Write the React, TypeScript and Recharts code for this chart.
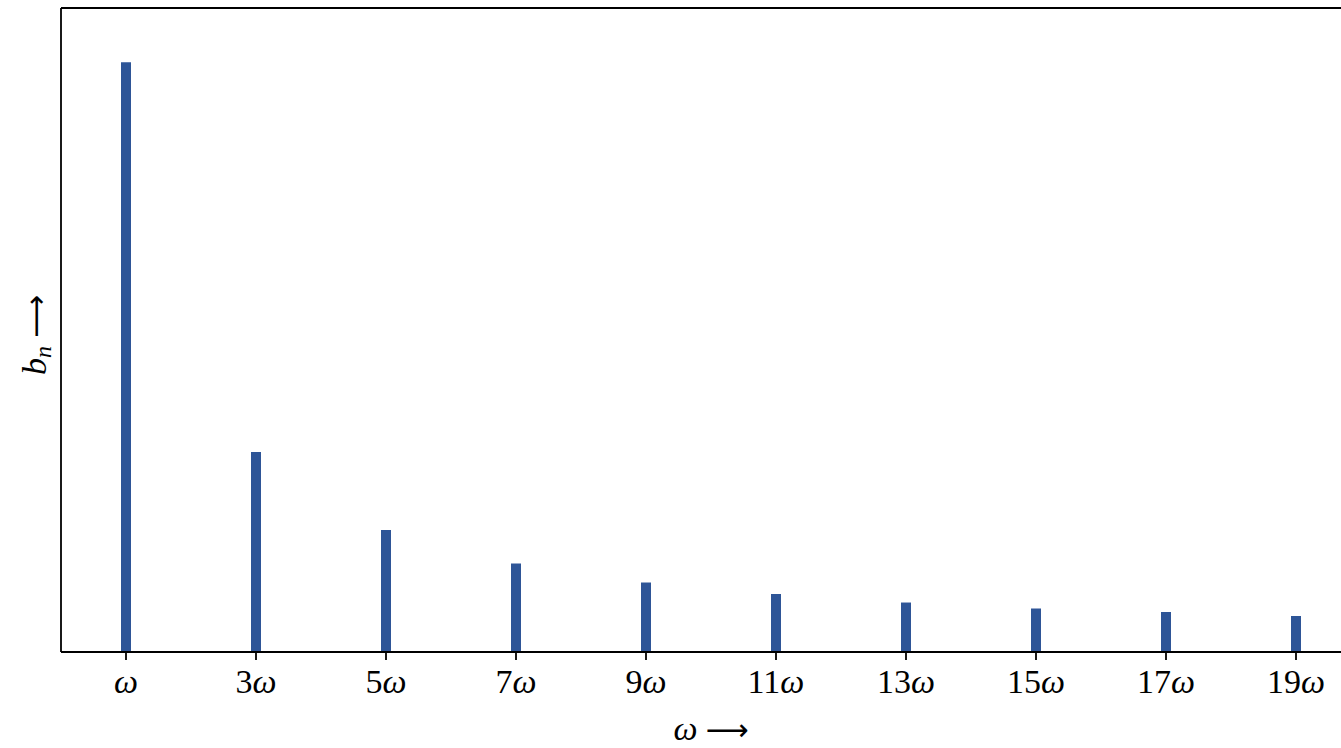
import React from "react";
import { BarChart, Bar, XAxis, YAxis, ReferenceLine } from "recharts";

const harmonics = [1, 3, 5, 7, 9, 11, 13, 15, 17, 19];
const tickPrefixes = ["", "3", "5", "7", "9", "11", "13", "15", "17", "19"];
const coefficients = [1.273, 0.4316, 0.2633, 0.191, 0.15, 0.1252, 0.1068, 0.0939, 0.0863, 0.0777];
const yMax = 1.39;

const data = harmonics.map((n, i) => ({ n: String(n), prefix: tickPrefixes[i], b: coefficients[i] }));

const FONT = "'Liberation Serif', 'DejaVu Serif', serif";
const ARROW_FONT = "'DejaVu Sans', sans-serif";
const BAR_COLOR = "#2E5597";

const Tick = (props: any) => {
  const { x, y, index } = props;
  const prefix = tickPrefixes[index] ?? "";
  return (
    <text x={x} y={y + 31} textAnchor="middle" fontFamily={FONT} fontSize={34} fill="#000">
      {prefix}
      <tspan fontStyle="italic">ω</tspan>
    </text>
  );
};

export default function App() {
  return (
    <div style={{ position: "fixed", left: 0, top: 0, width: 1341, height: 748, overflow: "hidden", background: "#fff" }}>
      <BarChart
        width={1400}
        height={748}
        data={data}
        margin={{ top: 8, right: 39, bottom: 0, left: 0 }}
        barSize={10}
      >
        <XAxis
          dataKey="n"
          height={96}
          interval={0}
          tick={<Tick />}
          tickSize={8}
          tickLine={{ stroke: "#000", strokeWidth: 1.8 }}
          axisLine={{ stroke: "#000", strokeWidth: 1.8 }}
          label={{
            content: (p: any) => {
              const vb = p.viewBox || { x: 61, width: 1300, y: 652 };
              return (
                <text x={vb.x + vb.width / 2} y={740} textAnchor="middle" fontFamily={FONT} fontSize={34} fill="#000">
                  <tspan fontStyle="italic">ω</tspan>
                  <tspan fontFamily={ARROW_FONT} fontSize={30} dx={8}>⟶</tspan>
                </text>
              );
            },
          }}
        />
        <YAxis
          type="number"
          domain={[0, yMax]}
          allowDataOverflow
          width={61}
          tick={false}
          tickLine={false}
          axisLine={{ stroke: "#000", strokeWidth: 1.8 }}
          label={{
            content: (p: any) => {
              const vb = p.viewBox || { y: 8, height: 644 };
              const cy = vb.y + vb.height / 2 + 5;
              return (
                <text
                  x={46}
                  y={cy}
                  textAnchor="middle"
                  fontFamily={FONT}
                  fontSize={34}
                  fill="#000"
                  transform={`rotate(-90, 46, ${cy})`}
                >
                  <tspan fontStyle="italic">b</tspan>
                  <tspan fontStyle="italic" fontSize={24} dy={5}>n</tspan>
                  <tspan fontFamily={ARROW_FONT} fontSize={30} dy={-5} dx={8}>⟶</tspan>
                </text>
              );
            },
          }}
        />
        <ReferenceLine y={yMax} stroke="#000" strokeWidth={1.8} ifOverflow="visible" />
        <Bar dataKey="b" fill={BAR_COLOR} isAnimationActive={false} />
      </BarChart>
    </div>
  );
}
